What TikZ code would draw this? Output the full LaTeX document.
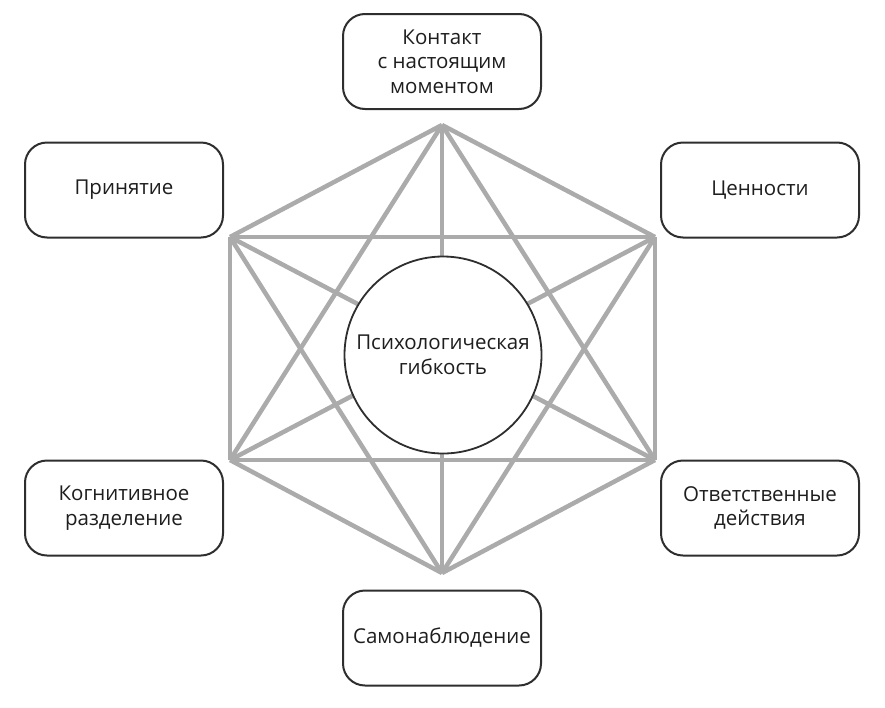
\documentclass[tikz,border=0pt]{standalone}
\usepackage{fontspec}
\setmainfont{Open Sans}
\definecolor{hexgray}{HTML}{ABABAB}
\definecolor{boxline}{HTML}{2E2E2E}
\definecolor{textdark}{HTML}{1E1E1E}

\tikzset{
  facet/.style={draw=boxline,line width=2pt,rounded corners=22pt,fill=white,
    minimum width=198pt,minimum height=95pt,align=center,text=textdark,
    font=\fontsize{20.5}{24.5}\selectfont},
  core/.style={circle,draw=boxline,line width=1.8pt,fill=white,minimum size=197pt,
    align=center,text=textdark,inner sep=0pt,font=\fontsize{20.5}{24.5}\selectfont},
  link/.style={hexgray,line width=4.5pt}
}

\begin{document}
\begin{tikzpicture}[x=1pt,y=-1pt]
  \useasboundingbox (0,0) rectangle (885,707);

  % corners of the hexagon
  \coordinate (v1) at (442,125);
  \coordinate (v2) at (655,237);
  \coordinate (v3) at (655,460);
  \coordinate (v4) at (442,573);
  \coordinate (v5) at (230,460);
  \coordinate (v6) at (230,237);

  % every corner joined to every other
  \foreach \a/\b in {v1/v2,v1/v3,v1/v4,v1/v5,v1/v6,
                     v2/v3,v2/v4,v2/v5,v2/v6,
                     v3/v4,v3/v5,v3/v6,
                     v4/v5,v4/v6,
                     v5/v6}
    \draw[link] (\a) -- (\b);

  \node[core] (flex) at (443,355) {Психологическая\\гибкость};

  \node[facet] (contact) at (442,61.5) {Контакт\\с настоящим\\моментом};
  \node[facet] (values) at (760,190) {Ценности};
  \node[facet] (action) at (760,508) {Ответственные\\действия};
  \node[facet] (self) at (442,638) {Самонаблюдение};
  \node[facet] (defusion) at (124,508) {Когнитивное\\разделение};
  \node[facet] (accept) at (124,190) {Принятие};
\end{tikzpicture}
\end{document}
